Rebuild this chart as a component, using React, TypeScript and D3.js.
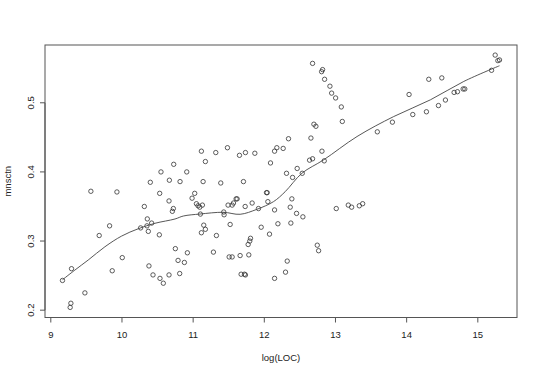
import React from "react";
import { scaleLinear, line, extent, curveCatmullRom } from "d3";

// log(LOC) values
const logLoc = [
  9.164, 9.291, 9.282, 9.272, 9.479, 9.563, 9.68, 9.826, 9.863, 9.929,
  10.004, 10.262, 10.314, 10.356, 10.351, 10.37, 10.417, 10.379, 10.398, 10.436,
  10.525, 10.53, 10.534, 10.548, 10.581, 10.661, 10.666, 10.661, 10.708, 10.722,
  10.727, 10.75, 10.788, 10.816, 10.811, 10.877, 10.91, 10.919, 10.985, 11.022,
  11.046, 11.069, 11.093, 11.102, 11.116, 11.13, 11.14, 11.149, 11.116, 11.172,
  11.172, 11.285, 11.318, 11.327, 11.388, 11.43, 11.435, 11.482, 11.491, 11.52,
  11.506, 11.548, 11.548, 11.567, 11.604, 11.618, 11.651, 11.66, 11.674, 11.707,
  11.721, 11.735, 11.731, 11.735, 11.773, 11.782, 11.796, 11.806, 11.829, 11.867,
  11.918, 11.956, 12.031, 12.04, 12.05, 12.073, 12.087, 12.144, 12.176, 12.144,
  12.144, 12.191,
  12.265, 12.34, 12.312, 12.397, 12.462, 12.533, 12.387, 12.364, 12.453, 12.542,
  12.373, 12.322, 12.298, 12.655, 12.678, 12.697, 12.725, 12.636, 12.678, 12.81,
  12.842, 12.744, 12.763, 12.805, 12.819, 12.847, 12.922, 12.946, 13.002, 13.082,
  13.096, 13.011, 13.18, 13.227, 13.335, 13.382, 13.588, 13.8, 14.034, 14.086,
  14.278, 14.311, 14.447, 14.494, 14.545, 14.667, 14.714, 14.794, 14.817, 15.193,
  15.244, 15.282, 15.305,
];

// mnsctn values, same order
const mnsctn = [
  0.243, 0.26, 0.21, 0.204, 0.225, 0.372, 0.308, 0.322, 0.257, 0.371,
  0.276, 0.319, 0.35, 0.332, 0.322, 0.314, 0.326, 0.264, 0.385, 0.251,
  0.309, 0.369, 0.246, 0.4, 0.239, 0.358, 0.388, 0.251, 0.343, 0.347,
  0.411, 0.289, 0.272, 0.386, 0.253, 0.269, 0.4, 0.283, 0.362, 0.369,
  0.354, 0.351, 0.349, 0.339, 0.43, 0.352, 0.386, 0.323, 0.312, 0.317,
  0.415, 0.284, 0.428, 0.308, 0.384, 0.342, 0.338, 0.435, 0.352, 0.324,
  0.277, 0.277, 0.352, 0.355, 0.361, 0.361, 0.424, 0.279, 0.252, 0.386,
  0.252, 0.428, 0.35, 0.251, 0.295, 0.28, 0.3, 0.304, 0.355, 0.427,
  0.347, 0.32, 0.37, 0.37, 0.357, 0.31, 0.413, 0.43, 0.435, 0.345,
  0.246, 0.325,
  0.434, 0.448, 0.398, 0.392, 0.405, 0.398, 0.361, 0.349, 0.34, 0.335,
  0.326, 0.271, 0.255, 0.449, 0.557, 0.469, 0.466, 0.417, 0.419, 0.43,
  0.416, 0.294, 0.286, 0.545, 0.548, 0.534, 0.524, 0.514, 0.507, 0.494,
  0.473, 0.347, 0.352, 0.349, 0.351, 0.354, 0.458, 0.472, 0.512, 0.483,
  0.487, 0.534, 0.496, 0.536, 0.504, 0.515, 0.516, 0.52, 0.52, 0.547,
  0.569, 0.561, 0.562,
];

// smoother curve
const smoothX = [
  9.164, 9.338, 9.525, 9.76, 9.995, 10.229, 10.464, 10.745, 10.862, 11.097,
  11.425, 11.66, 11.895, 12.129, 12.293, 12.529, 12.833, 13.303, 13.818, 14.334,
  14.803, 15.305,
];
const smoothY = [
  0.244, 0.258, 0.2725, 0.2917, 0.3072, 0.3178, 0.3257, 0.3319, 0.3362, 0.3391,
  0.3416, 0.3387, 0.3459, 0.357, 0.3714, 0.3981, 0.4174, 0.4512, 0.4801, 0.5043,
  0.5309, 0.5536,
];

const xTicks = [9, 10, 11, 12, 13, 14, 15];
const yTicks = [0.2, 0.3, 0.4, 0.5];

// R-style 4% padding on the data range
const pad = ([lo, hi]: [number, number]) => {
  const d = (hi - lo) * 0.04;
  return [lo - d, hi + d];
};

const W = 540;
const H = 374;
const left = 45;
const right = 517;
const top = 45;
const bottom = 317.5;

const App = () => {
  const x = scaleLinear()
    .domain(pad(extent(logLoc) as [number, number]))
    .range([left, right]);
  const y = scaleLinear()
    .domain(pad(extent(mnsctn) as [number, number]))
    .range([bottom, top]);

  const path = line<number>()
    .x((d) => x(d))
    .y((_, i) => y(smoothY[i]))
    .curve(curveCatmullRom.alpha(0.5))(smoothX);

  const font = "'Liberation Sans', Arial, sans-serif";

  return (
    <svg
      width={W}
      height={H}
      style={{ position: "absolute", left: 0, top: 0, background: "#fff" }}
      fontFamily={font}
      fontSize={9.5}
    >
      <rect x={left} y={top} width={right - left} height={bottom - top} fill="none" stroke="#555" strokeWidth={1} />

      {/* x axis */}
      <line x1={x(xTicks[0])} x2={x(xTicks[xTicks.length - 1])} y1={bottom} y2={bottom} stroke="#555" />
      {xTicks.map((t) => (
        <g key={t}>
          <line x1={x(t)} x2={x(t)} y1={bottom} y2={bottom + 5} stroke="#555" />
          <text x={x(t)} y={337.5} textAnchor="middle" fill="#222">
            {t}
          </text>
        </g>
      ))}

      {/* y axis */}
      <line x1={left} x2={left} y1={y(yTicks[0])} y2={y(yTicks[yTicks.length - 1])} stroke="#555" />
      {yTicks.map((t) => (
        <g key={t}>
          <line x1={left - 5} x2={left} y1={y(t)} y2={y(t)} stroke="#555" />
          <text
            transform={`translate(33.5, ${y(t)}) rotate(-90)`}
            textAnchor="middle"
            fill="#222"
          >
            {t}
          </text>
        </g>
      ))}

      <text x={(left + right) / 2} y={360.5} textAnchor="middle" fill="#222">
        log(LOC)
      </text>
      <text transform={`translate(10.5, ${(top + bottom) / 2}) rotate(-90)`} textAnchor="middle" fill="#222">
        mnsctn
      </text>

      {logLoc.map((v, i) => (
        <circle key={i} cx={x(v)} cy={y(mnsctn[i])} r={2.2} fill="none" stroke="#333" strokeWidth={0.8} />
      ))}

      <path d={path ?? ""} fill="none" stroke="#444" strokeWidth={0.9} />
    </svg>
  );
};

export default App;
